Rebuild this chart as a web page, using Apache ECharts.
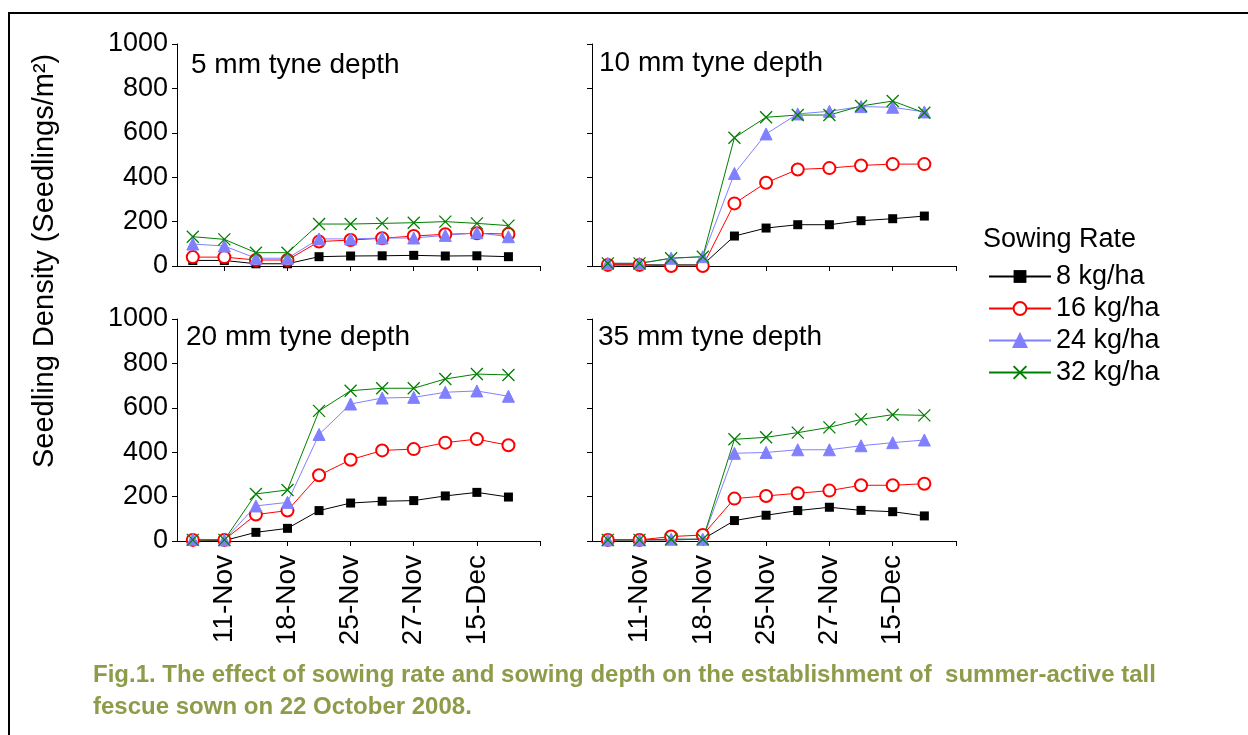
<!DOCTYPE html>
<html>
<head>
<meta charset="utf-8">
<script src="https://cdn.jsdelivr.net/npm/echarts@6/dist/echarts.min.js"></script>
<style>
html,body{margin:0;padding:0;background:#fff;}
#chart{width:1248px;height:735px;}
</style>
</head>
<body>
<div id="chart"></div>
<script>
// ---- data ----
const seriesNames = ['8 kg/ha', '16 kg/ha', '24 kg/ha', '32 kg/ha'];
const panelTitles = ['5 mm tyne depth', '10 mm tyne depth', '20 mm tyne depth', '35 mm tyne depth'];
const xTickLabels = ['11-Nov', '18-Nov', '25-Nov', '27-Nov', '15-Dec'];
const xLabelledPoints = [2, 4, 6, 8, 10];
const yTicks = [0, 200, 400, 600, 800, 1000];

// 5 mm
const d5_8  = [25, 25, 10, 10, 42, 45, 46, 48, 45, 46, 42];
const d5_16 = [40, 40, 27, 27, 110, 117, 125, 135, 143, 147, 144];
const d5_24 = [99, 90, 35, 35, 122, 122, 126, 126, 138, 150, 132];
const d5_32 = [132, 120, 60, 60, 189, 189, 192, 195, 200, 192, 182];
// 10 mm
const d10_8  = [5, 5, 5, 5, 135, 171, 186, 186, 204, 213, 225];
const d10_16 = [5, 5, 0, 0, 282, 375, 435, 441, 453, 459, 459];
const d10_24 = [12, 12, 35, 42, 417, 595, 685, 697, 718, 715, 694];
const d10_32 = [12, 12, 35, 42, 578, 670, 680, 680, 721, 743, 690];
// 20 mm
const d20_8  = [5, 2, 39, 57, 137, 171, 179, 182, 203, 219, 198];
const d20_16 = [5, 5, 119, 137, 296, 366, 408, 414, 443, 459, 431];
const d20_24 = [8, 5, 158, 174, 480, 617, 644, 647, 670, 676, 652];
const d20_32 = [5, 5, 212, 230, 586, 677, 688, 688, 730, 752, 748];
// 35 mm
const d35_8  = [5, 5, 5, 8, 92, 116, 137, 152, 138, 132, 113];
const d35_16 = [5, 5, 20, 27, 191, 203, 215, 227, 251, 251, 258];
const d35_24 = [5, 5, 8, 8, 395, 399, 411, 411, 429, 443, 455];
const d35_32 = [5, 5, 8, 8, 458, 467, 488, 512, 548, 569, 566];

const panels = [
  [d5_8, d5_16, d5_24, d5_32],
  [d10_8, d10_16, d10_24, d10_32],
  [d20_8, d20_16, d20_24, d20_32],
  [d35_8, d35_16, d35_24, d35_32]
];

// ---- styling / layout ----
const FONT = "'Liberation Sans', Arial, sans-serif";
const colors = ['#000000', '#ff0000', '#8080ff', '#008000'];
const symbols = ['rect', 'emptyCircle', 'triangle', 'path://M0,0L10,10M0,10L10,0'];
const symbolSizes = [9, 12, 12, 12];
const grids = [
  {left: 177, top: 44, width: 363, height: 222},
  {left: 592, top: 44, width: 364, height: 222},
  {left: 177, top: 319, width: 363, height: 222},
  {left: 592, top: 319, width: 364, height: 222}
];
const titlePos = [[191, 65], [599, 63], [186, 337], [598, 337]];

const chart = echarts.init(document.getElementById('chart'), null, {renderer: 'canvas'});

const xAxes = grids.map((g, i) => ({
  type: 'value', gridIndex: i, min: 0.5, max: 12,
  axisLine: {show: true, lineStyle: {color: '#000', width: 1}},
  axisTick: {show: true, length: 5, inside: false, lineStyle: {color: '#000', width: 1},
             customValues: xLabelledPoints.concat([12])},
  axisLabel: {show: i >= 2, rotate: 90, margin: 14, fontSize: 28, color: '#000', fontFamily: FONT,
              customValues: xLabelledPoints,
              formatter: v => { const k = xLabelledPoints.indexOf(v); return k >= 0 ? xTickLabels[k] : ''; }},
  splitLine: {show: false}
}));

const yAxes = grids.map((g, i) => ({
  type: 'value', gridIndex: i, min: yTicks[0], max: yTicks[yTicks.length - 1], interval: 200,
  axisLine: {show: true, lineStyle: {color: '#000', width: 1}},
  axisTick: {show: true, length: 5, inside: false, lineStyle: {color: '#000', width: 1}},
  axisLabel: {show: i % 2 === 0, margin: 9, fontSize: 27, color: '#000', fontFamily: FONT,
              formatter: v => String(v)},
  splitLine: {show: false}
}));

const series = [];
panels.forEach((panel, p) => {
  panel.forEach((vals, s) => {
    series.push({
      name: seriesNames[s], type: 'line', xAxisIndex: p, yAxisIndex: p,
      data: vals.map((v, i) => [i + 1, v]),
      symbol: symbols[s], symbolSize: symbolSizes[s], showAllSymbol: true,
      lineStyle: {color: colors[s], width: 1},
      itemStyle: {color: colors[s], borderColor: colors[s], borderWidth: s === 0 ? 0 : (s === 3 ? 1.3 : 1)},
      emphasis: {disabled: true},
      animation: false
    });
  });
});

const graphics = [
  {type: 'rect', shape: {x: 9, y: 13, width: 1400, height: 900}, style: {fill: 'none', stroke: '#000', lineWidth: 2}, silent: true},
  {type: 'text', x: 45, y: 468, rotation: Math.PI / 2,
   style: {text: 'Seedling Density (Seedlings/m²)', fontSize: 29, fontFamily: FONT, fill: '#000', textAlign: 'left', textVerticalAlign: 'middle'}},
  {type: 'text', x: 983, y: 240,
   style: {text: 'Sowing Rate', fontSize: 27, fontFamily: FONT, fill: '#000', textAlign: 'left', textVerticalAlign: 'middle'}},
  {type: 'text', x: 93, y: 675,
   style: {text: 'Fig.1. The effect of sowing rate and sowing depth on the establishment of  summer-active tall', fontSize: 24, fontWeight: 'bold', fontFamily: FONT, fill: '#8c9c48', textAlign: 'left', textVerticalAlign: 'middle'}},
  {type: 'text', x: 93, y: 707,
   style: {text: 'fescue sown on 22 October 2008.', fontSize: 24, fontWeight: 'bold', fontFamily: FONT, fill: '#8c9c48', textAlign: 'left', textVerticalAlign: 'middle'}}
];
titlePos.forEach((pos, i) => {
  graphics.push({type: 'text', x: pos[0], y: pos[1],
    style: {text: panelTitles[i], fontSize: 28, fontFamily: FONT, fill: '#000', textAlign: 'left', textVerticalAlign: 'middle'}});
});

chart.setOption({
  backgroundColor: '#fff',
  animation: false,
  grid: grids.map(g => Object.assign({containLabel: false, outerBoundsMode: 'none'}, g)),
  xAxis: xAxes,
  yAxis: yAxes,
  legend: {
    orient: 'vertical', left: 983, top: 258,
    data: seriesNames, itemWidth: 62, itemHeight: 16, itemGap: 5,
    textStyle: {fontSize: 27, fontFamily: FONT, color: '#000'},
    selectedMode: false
  },
  series: series,
  graphic: graphics
});
</script>
</body>
</html>
